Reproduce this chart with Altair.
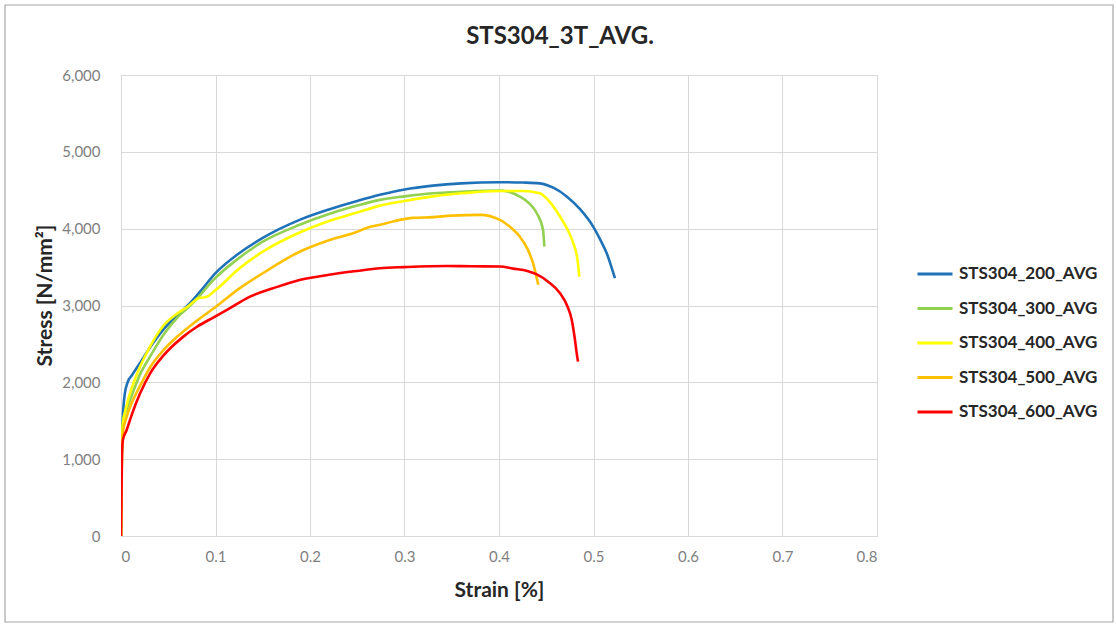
import altair as alt
import pandas as pd

# ---- data ----
series_names = ["STS304_200_AVG", "STS304_300_AVG", "STS304_400_AVG", "STS304_500_AVG", "STS304_600_AVG"]
series_colors = ["#1f72b8", "#92d050", "#ffff00", "#ffc000", "#ff0000"]

strain_200 = [0, 0.001, 0.002, 0.004, 0.007, 0.012, 0.02, 0.031, 0.045, 0.06, 0.073, 0.085, 0.1, 0.125, 0.15,
              0.189, 0.22, 0.25, 0.274, 0.3, 0.33, 0.36, 0.4, 0.425, 0.443, 0.458, 0.4716, 0.486, 0.4995,
              0.507, 0.514, 0.519, 0.5227]
stress_200 = [0, 1200, 1550, 1850, 2000, 2100, 2250, 2460, 2690, 2880, 3030, 3200, 3420, 3680, 3880,
              4115, 4250, 4360, 4440, 4510, 4560, 4590, 4605, 4600, 4590, 4530, 4420, 4250, 4030,
              3860, 3680, 3500, 3355]

strain_300 = [0, 0.001, 0.002, 0.006, 0.012, 0.02, 0.031, 0.045, 0.06, 0.076, 0.1, 0.125, 0.15, 0.189, 0.22,
              0.25, 0.274, 0.3, 0.33, 0.36, 0.401, 0.41, 0.422, 0.432, 0.44, 0.4466, 0.448]
stress_300 = [0, 1200, 1500, 1650, 1850, 2100, 2340, 2620, 2850, 3030, 3360, 3620, 3830, 4050, 4190,
              4300, 4375, 4420, 4460, 4480, 4496, 4480, 4418, 4330, 4200, 3984, 3767]

strain_400 = [0, 0.001, 0.002, 0.006, 0.012, 0.02, 0.03, 0.045, 0.06, 0.072, 0.08, 0.0836, 0.09, 0.1, 0.125,
              0.15, 0.189, 0.22, 0.25, 0.274, 0.3, 0.33, 0.36, 0.4, 0.425, 0.443, 0.455, 0.4645, 0.472,
              0.4786, 0.483, 0.485]
stress_400 = [0, 1200, 1450, 1700, 1950, 2200, 2450, 2740, 2900, 3000, 3080, 3100, 3110, 3200, 3480,
              3700, 3950, 4100, 4210, 4300, 4360, 4420, 4460, 4490, 4490, 4460, 4330, 4158, 4000,
              3811, 3600, 3376]

strain_500 = [0, 0.001, 0.002, 0.006, 0.012, 0.02, 0.031, 0.045, 0.06, 0.08, 0.1, 0.125, 0.15, 0.189, 0.22,
              0.25, 0.26, 0.274, 0.29, 0.309, 0.33, 0.35, 0.38, 0.401, 0.412, 0.422, 0.43, 0.436, 0.4416]
stress_500 = [0, 1100, 1350, 1550, 1750, 1950, 2200, 2420, 2600, 2800, 2980, 3220, 3420, 3700, 3850,
              3960, 4010, 4050, 4100, 4140, 4150, 4170, 4180, 4115, 4020, 3897, 3740, 3550, 3268]

strain_600 = [0, 0.001, 0.002, 0.006, 0.012, 0.02, 0.031, 0.045, 0.066, 0.08, 0.0995, 0.12, 0.1365, 0.16,
              0.189, 0.22, 0.25, 0.274, 0.3, 0.3446, 0.37, 0.401, 0.415, 0.43, 0.44, 0.452, 0.4646, 0.472,
              0.477, 0.4804, 0.482, 0.4836]
stress_600 = [0, 1050, 1250, 1380, 1600, 1850, 2120, 2350, 2595, 2720, 2856, 3000, 3116, 3220,
              3333, 3400, 3450, 3485, 3500, 3515, 3510, 3507, 3480, 3450, 3405, 3310, 3160, 3000,
              2812, 2552, 2400, 2270]

x_ticks = [0, 0.1, 0.2, 0.3, 0.4, 0.5, 0.6, 0.7, 0.8]
y_ticks = [0, 1000, 2000, 3000, 4000, 5000, 6000]

all_strain = [strain_200, strain_300, strain_400, strain_500, strain_600]
all_stress = [stress_200, stress_300, stress_400, stress_500, stress_600]

rows = []
for name, xs, ys in zip(series_names, all_strain, all_stress):
    for i, (xv, yv) in enumerate(zip(xs, ys)):
        rows.append({"series": name, "strain": xv, "stress": yv, "idx": i})
df = pd.DataFrame(rows)

FONT = "Lato"
W, H = 756, 461

lines = alt.Chart(df).mark_line(strokeWidth=2.6, clip=True, interpolate="monotone").encode(
    x=alt.X("strain:Q",
            scale=alt.Scale(domain=[0, 0.8], nice=False),
            axis=alt.Axis(values=x_ticks, format=".1~f", title="Strain [%]",
                          grid=True, gridColor="#d9d9d9", domainColor="#d9d9d9",
                          ticks=False, tickSize=0, labelPadding=13,
                          labelFont=FONT, labelFontSize=15, labelColor="#7f7f7f",
                          titleFont=FONT, titleFontSize=21, titleFontWeight="bold", titleColor="#262626",
                          titleX=W / 2, titleY=54, titleBaseline="middle", titleAlign="center")),
    y=alt.Y("stress:Q",
            scale=alt.Scale(domain=[0, 6000], nice=False),
            axis=alt.Axis(values=y_ticks, format=",d", title="Stress [N/mm²]",
                          grid=True, gridColor="#d9d9d9", domainColor="#d9d9d9",
                          ticks=False, tickSize=0, labelPadding=21,
                          labelFont=FONT, labelFontSize=15, labelColor="#7f7f7f",
                          titleFont=FONT, titleFontSize=21, titleFontWeight="bold", titleColor="#262626",
                          titleX=-76, titleY=220, titleBaseline="middle", titleAlign="center", titleAngle=270)),
    color=alt.Color("series:N",
                    scale=alt.Scale(domain=series_names, range=series_colors),
                    legend=alt.Legend(title=None, orient="none", legendX=795, legendY=180,
                                      symbolType="stroke", symbolSize=1225, symbolStrokeWidth=3,
                                      labelFont=FONT, labelFontSize=17, labelFontWeight="bold",
                                      labelColor="#262626", labelOffset=5, rowPadding=7.5,
                                      padding=0)),
    order="idx:Q",
)

border = alt.Chart(pd.DataFrame({"a": [0]})).mark_rect(
    fill=None, stroke="#a6a6a6", strokeWidth=1.2, clip=False
).encode(
    x=alt.value(-116), x2=alt.value(992), y=alt.value(-70), y2=alt.value(547)
)

chart = alt.layer(border, lines).properties(
    width=W, height=H,
    title=alt.TitleParams("STS304_3T_AVG.", font=FONT, fontSize=24, fontWeight="bold",
                          color="#262626", anchor="middle", dx=61, dy=71, offset=26),
    autosize=alt.AutoSizeParams(type="none"),
    padding={"left": 121, "top": 75, "right": 239, "bottom": 88},
).configure_view(stroke=None).configure(background="white")

chart.save("out.html", embed_options={"renderer": "svg", "actions": False})
